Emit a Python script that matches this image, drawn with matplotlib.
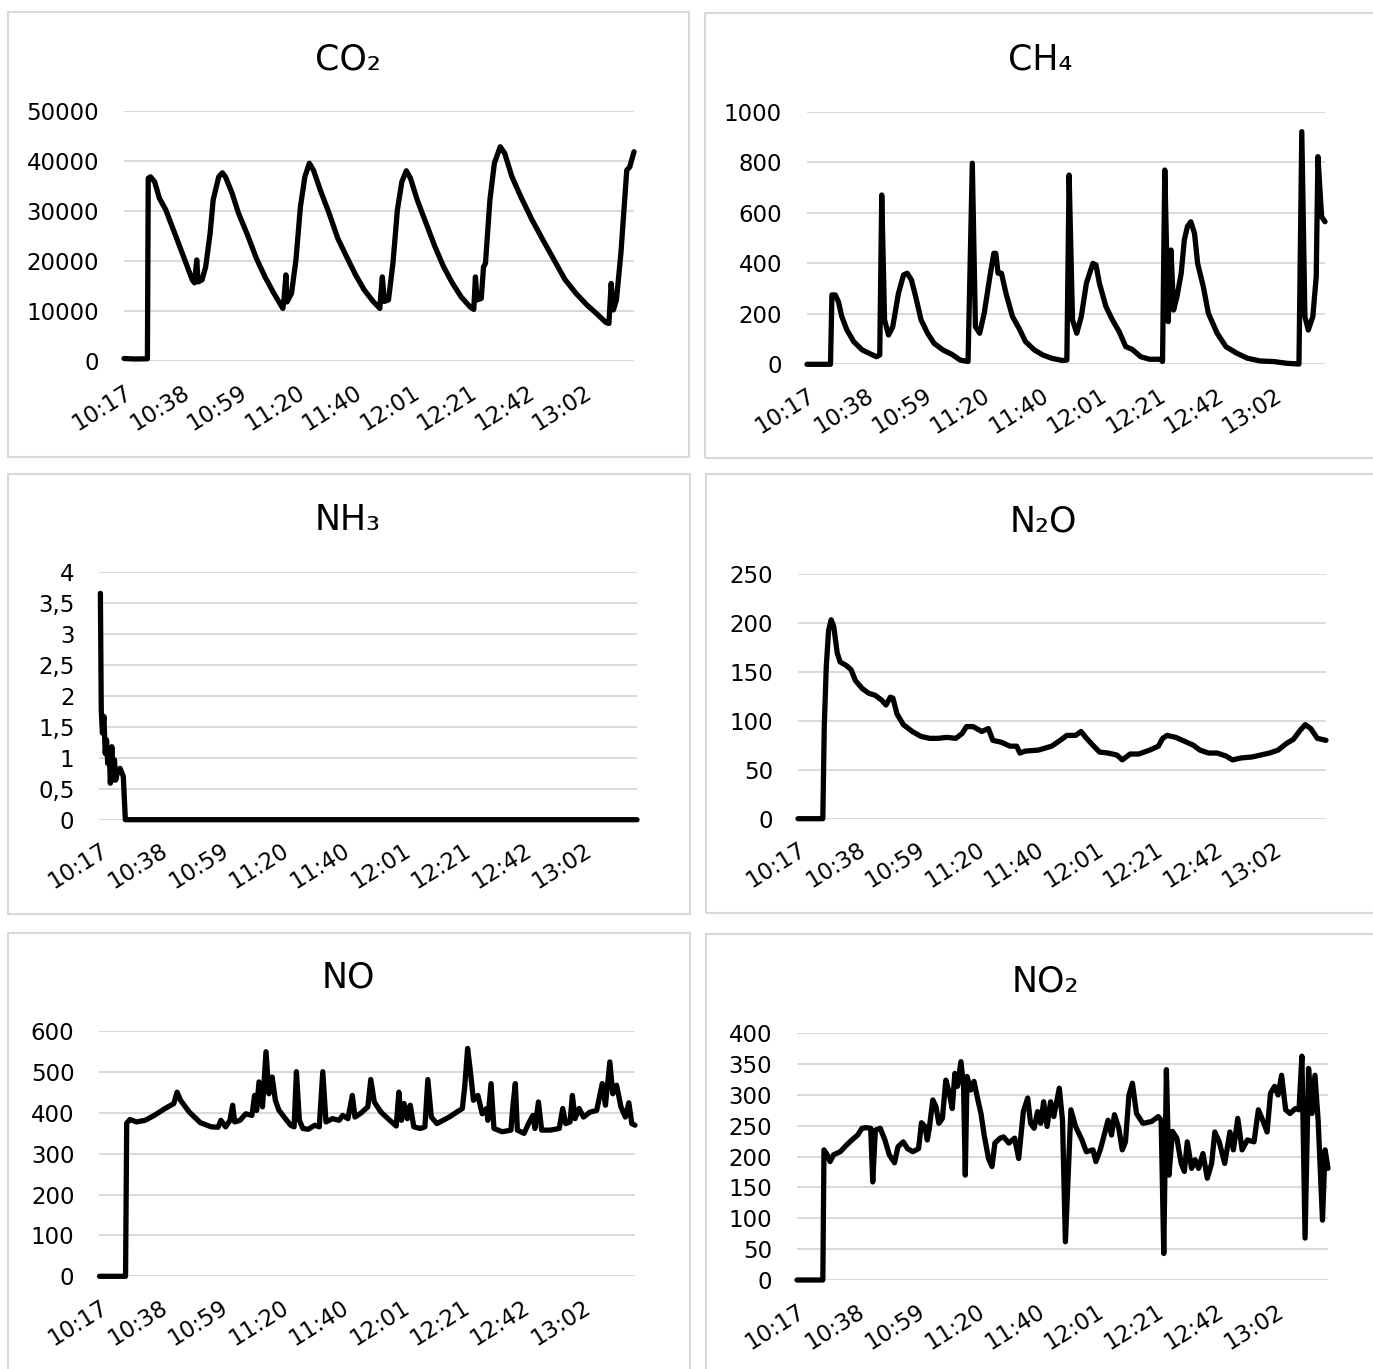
import matplotlib.pyplot as plt
from matplotlib.patches import Rectangle

# time axis: minutes after 10:17
tick_labels = ["10:17", "10:38", "10:59", "11:20", "11:40", "12:01", "12:21", "12:42", "13:02"]
tick_step = 20.625

co2_t = [0, 4, 8.4, 8.7, 9.5, 11, 12.7, 15, 18.2, 21.4, 24.5, 25.3, 26.1, 26.6, 28, 29.3, 30.9, 32,
         34, 35.3, 36.4, 38.8, 41.1, 44.3, 47.5, 50.6, 53.8, 57, 57.4, 58.1, 58.5, 60.1, 61.7, 63.3,
         64.9, 66.5, 68, 70.4, 73.6, 76.7, 79.9, 83.1, 86.2, 89.4, 91.8, 92.2, 92.7, 93.4, 94.9, 96.5,
         98.1, 99.7, 101.3, 102.8, 105.2, 108.4, 111.6, 114.7, 117.9, 121, 124.2, 125.5, 126.1, 126.7,
         128.2, 129, 129.7, 131.3, 132.9, 135, 136.6, 139.2, 142.4, 146.4, 150.3, 154.3, 158.2, 162.2,
         166.1, 170.1, 172.9, 174, 174.8, 175.6, 176.7, 178.3, 180.4, 181.5, 183]
co2_v = [500, 400, 450, 36500, 36800, 35800, 32500, 30200, 25500, 20800, 16200, 15600, 20200, 15800,
         16200, 18800, 25500, 32200, 36800, 37600, 36800, 33500, 29500, 25200, 20500, 16800, 13500,
         10500, 12200, 17200, 11800, 13500, 20200, 30800, 36800, 39500, 38100, 34200, 29500, 24500,
         20800, 17200, 14200, 11900, 10500, 13500, 16800, 11900, 12200, 19500, 30200, 35800, 38000,
         36500, 32200, 27500, 22800, 18800, 15500, 12800, 10800, 10300, 16800, 12200, 12500, 18800,
         19500, 32200, 39500, 42800, 41500, 36800, 32800, 28200, 24200, 20200, 16300, 13500, 11200,
         9200, 7700, 7500, 15500, 10200, 12200, 21500, 38100, 38800, 41800]

ch4_t = [0, 8.3, 8.8, 10, 11.1, 12.3, 14.1, 16.5, 19.5, 22.6, 24.6, 25.7, 26.4, 27.4, 28.8, 30.3,
         32.3, 34.1, 35.4, 36.9, 38.4, 40.3, 42.6, 44.9, 48, 51.1, 54.1, 56.9, 58.4, 59.5, 61, 62.6,
         64.6, 66, 66.7, 67.5, 68.7, 70.3, 72.6, 74.9, 77.2, 80.3, 83.3, 86.4, 90.3, 91.8, 92.6, 93.8,
         95.3, 96.9, 98.7, 101, 102.1, 103.3, 105.6, 107.9, 110.3, 112.6, 114.9, 117.9, 121, 124.9,
         125.6, 126.4, 127.6, 128.6, 129.5, 130.7, 132.2, 133.3, 134.4, 135.6, 136.9, 138, 140, 141.8,
         144.9, 148, 151.8, 155.6, 160.2, 164.8, 169.5, 173.8, 174.8, 175.9, 177.1, 178.7, 179.9,
         180.5, 181.8, 183]
ch4_v = [0, 0, 275, 275, 248, 189, 136, 90, 57, 40, 30, 37, 671, 176, 116, 149, 281, 354, 361, 334,
         268, 176, 123, 83, 57, 40, 17, 11, 797, 149, 123, 202, 347, 440, 440, 361, 361, 281, 189, 143,
         90, 57, 37, 24, 15, 17, 750, 176, 123, 189, 321, 400, 394, 321, 229, 176, 129, 70, 59, 30, 20,
         20, 11, 770, 169, 453, 215, 268, 361, 493, 546, 565, 519, 400, 308, 202, 123, 70, 44, 24, 13,
         11, 4, 1, 922, 189, 136, 189, 347, 823, 585, 565]

nh3_t = [0.3, 0.6, 1.0, 1.5, 1.95, 2.4, 2.8, 3.3, 3.7, 4.2, 4.6, 5.1, 5.5, 6.3, 7.0, 8.1, 8.8, 183]
nh3_v = [3.66, 1.77, 1.40, 1.67, 1.07, 1.29, 0.91, 1.13, 0.59, 1.18, 0.64, 0.97, 0.64, 0.80, 0.83,
         0.70, 0, 0]

n2o_t = [0, 8.6, 9.1, 9.8, 10.6, 11.5, 12.4, 13.6, 14.6, 16.9, 18.4, 19.9, 22.2, 24.5, 26.7, 29,
         30.5, 32, 32.9, 34.3, 36.5, 39.6, 42.6, 45.6, 48.6, 51.6, 54.7, 56.9, 58.4, 60.7, 63.7, 66,
         67.5, 70.5, 73.5, 75.8, 76.9, 78.8, 83.3, 87.9, 90.9, 93.2, 96.2, 98.1, 100, 102.2, 104.5,
         107.5, 110.5, 112.4, 115.1, 118.1, 121.9, 124.9, 126.4, 127.9, 130.9, 134, 137, 139.3, 142.3,
         145.3, 148.3, 150.6, 153.6, 157.4, 160.4, 163.4, 166.4, 169.4, 171.7, 174, 175.8, 177.7, 180,
         183]
n2o_v = [0, 0, 94, 155, 192, 203, 196, 169, 160, 156, 152, 141, 133, 128, 126, 121, 116, 124, 123,
         107, 96, 89, 84, 82, 82, 83, 82, 87, 94, 94, 89, 92, 80, 78, 74, 74, 67, 69, 70, 74, 80, 85,
         85, 89, 82, 75, 68, 67, 65, 60, 66, 66, 70, 74, 82, 85, 83, 79, 75, 70, 67, 67, 64, 60, 62, 63,
         65, 67, 70, 77, 81, 90, 96, 92, 82, 80]

no_t = [0, 8.9, 9.3, 10.4, 12.6, 15.6, 18.7, 22.4, 25.4, 26.5, 27.7, 30.7, 34.5, 38.2, 40.5, 41.5,
        43.1, 44.6, 45.5, 46.2, 48, 50, 52.1, 53, 53.7, 54.5, 55.7, 56.9, 57.9, 59, 60.1, 61.3, 63.1,
        65.3, 66.5, 67.3, 68.3, 69.5, 71.3, 73.6, 75.1, 76.3, 77.4, 79.6, 81.9, 83.1, 84.9, 86.4, 87.3,
        89.4, 91.7, 92.7, 93.9, 96.2, 99.2, 101.4, 102.3, 103.2, 104.1, 105.2, 106.2, 107.4, 109.7,
        111.2, 112.2, 113.4, 115.3, 119.5, 124, 124.8, 125.8, 126.7, 127.8, 129.3, 130.8, 132.3, 132.7,
        133.8, 134.8, 137.6, 140.6, 141.3, 142.1, 142.8, 145.1, 146.6, 148.1, 148.8, 150, 151.1, 154.1,
        157.1, 158.3, 159.3, 160.8, 161.6, 162.5, 163.9, 165.4, 167.6, 169.9, 171.8, 172.9, 174.4,
        175.4, 176.7, 178.2, 179.7, 180.9, 181.9, 183]
no_v = [0, 0, 375, 384, 378, 382, 394, 411, 423, 451, 431, 402, 376, 366, 365, 382, 366, 382, 419,
        378, 382, 398, 394, 443, 406, 476, 415, 550, 447, 488, 431, 407, 390, 370, 366, 501, 382, 362,
        360, 370, 366, 501, 378, 386, 382, 394, 386, 443, 390, 400, 415, 482, 427, 402, 382, 368, 451,
        382, 423, 386, 419, 366, 362, 366, 482, 390, 374, 390, 411, 464, 558, 505, 431, 443, 398, 411,
        382, 472, 362, 354, 358, 419, 472, 358, 350, 374, 394, 362, 427, 358, 358, 362, 411, 374, 378,
        443, 386, 411, 390, 402, 406, 472, 419, 525, 447, 468, 415, 390, 425, 374, 370]

no2_t = [0, 8.9, 9.3, 10.4, 11.4, 12.6, 14.9, 17.1, 18.9, 20.9, 22.4, 23.9, 25.4, 26.1, 27, 28.7,
         30.3, 31.8, 33.6, 34.8, 36.6, 38.1, 39.9, 41.9, 42.9, 44.1, 44.9, 45.6, 46.8, 47.9, 48.9,
         50.1, 51.3, 52.4, 53.5, 54.4, 55.3, 56.5, 57.4, 58, 58.6, 59.9, 61, 62.2, 63.4, 64.5, 66,
         67.2, 68.2, 70, 71.2, 73, 75, 76.4, 78, 79.5, 80.5, 81.7, 82.9, 84, 85, 86.2, 87.4, 88.5,
         90.4, 91.5, 92.5, 93.4, 94.4, 96, 98.2, 99.7, 102, 103, 104.5, 105.7, 107.2, 108.4, 109.4,
         110.9, 112.1, 113.2, 114.4, 115.6, 117, 119.2, 122.2, 124.5, 125.5, 126.4, 127.3, 128.2,
         129.4, 130.9, 132.4, 133.5, 134.5, 136, 137.2, 138.4, 139.9, 141.4, 142.9, 144, 145.5, 147.4,
         149.2, 150.4, 151.9, 153.4, 155.2, 157.5, 159, 160.5, 162, 163.2, 164.6, 165.8, 167, 168.4,
         169.9, 171.8, 173, 174, 175.1, 176.3, 177.5, 178.5, 179.6, 181.1, 182, 183]
no2_v = [0, 0, 211, 203, 192, 203, 208, 219, 227, 235, 246, 247, 246, 159, 243, 246, 227, 203, 190,
         216, 224, 213, 208, 213, 255, 249, 227, 246, 292, 281, 254, 262, 324, 305, 278, 335, 314, 354,
         314, 170, 330, 308, 322, 295, 270, 235, 197, 184, 222, 230, 232, 222, 230, 197, 273, 295, 254,
         246, 273, 254, 289, 249, 289, 265, 311, 259, 62, 162, 276, 249, 227, 208, 211, 192, 211, 232,
         259, 235, 268, 246, 211, 224, 300, 319, 270, 254, 257, 265, 259, 43, 341, 170, 241, 230, 189,
         176, 224, 181, 195, 181, 205, 165, 189, 240, 224, 189, 240, 211, 262, 211, 227, 224, 276, 259,
         240, 303, 314, 300, 332, 276, 270, 278, 276, 363, 68, 343, 270, 332, 259, 97, 211, 181]

W, H = 1373, 1369
fig = plt.figure(figsize=(W / 100, H / 100), dpi=100)
fig.patch.set_facecolor("white")

def px_rect(x0, y0, x1, y1):
    return [x0 / W, 1 - y1 / H, (x1 - x0) / W, (y1 - y0) / H]

# panel boxes
boxes = [(8, 12, 689, 457), (705, 13, 1380, 458), (8, 474, 690, 914),
         (706, 474, 1380, 913), (8, 933, 690, 1380), (706, 934, 1380, 1380)]
for x0, y0, x1, y1 in boxes:
    fig.patches.append(Rectangle((x0 / W, 1 - y1 / H), (x1 - x0) / W, (y1 - y0) / H,
                                 transform=fig.transFigure, facecolor="none",
                                 edgecolor="#d9d9d9", linewidth=1.5, zorder=-1))

panels = [
    ("CO\u2082", co2_t, co2_v, (124, 110.7, 634, 361), [0, 10000, 20000, 30000, 40000, 50000], None, (348, 59)),
    ("CH\u2084", ch4_t, ch4_v, (807, 112, 1325, 364.3), [0, 200, 400, 600, 800, 1000], None, (1040, 60)),
    ("NH\u2083", nh3_t, nh3_v, (99.5, 572.3, 637, 819.7), [0, 0.5, 1, 1.5, 2, 2.5, 3, 3.5, 4],
     ["0", "0,5", "1", "1,5", "2", "2,5", "3", "3,5", "4"], (348, 520)),
    ("N\u2082O", n2o_t, n2o_v, (798, 573.7, 1326, 818.7), [0, 50, 100, 150, 200, 250], None, (1043, 522)),
    ("NO", no_t, no_v, (99.5, 1031.3, 635, 1276.3), [0, 100, 200, 300, 400, 500, 600], None, (348, 977)),
    ("NO\u2082", no2_t, no2_v, (797, 1033.3, 1328, 1280), [0, 50, 100, 150, 200, 250, 300, 350, 400], None, (1045, 982)),
]

for title, t, v, (x0, y0, x1, y1), yt, ylab, (tx, ty) in panels:
    ax = fig.add_axes(px_rect(x0, y0, x1, y1))
    ax.set_facecolor("none")
    ax.plot(t, v, color="black", lw=3.8, solid_joinstyle="round", solid_capstyle="round",
            clip_on=False, zorder=3)
    ax.set_xlim(0, 183)
    ax.set_ylim(0, yt[-1])
    ax.set_yticks(yt)
    if ylab:
        ax.set_yticklabels(ylab)
    ax.yaxis.grid(True, color="#d9d9d9", lw=1.4)
    ax.set_axisbelow(True)
    ax.set_xticks([i * tick_step for i in range(len(tick_labels))])
    ax.set_xticklabels(tick_labels, rotation=32, ha="right", va="top", rotation_mode="anchor")
    for s in ax.spines.values():
        s.set_visible(False)
    ax.tick_params(axis="both", length=0, colors="black")
    ax.tick_params(axis="y", pad=18, labelsize=16.5)
    ax.tick_params(axis="x", pad=14, labelsize=16.5)
    fig.text(tx / W, 1 - ty / H, title, fontsize=25, ha="center", va="center")

fig.savefig("out.png", dpi=100, facecolor="white")
